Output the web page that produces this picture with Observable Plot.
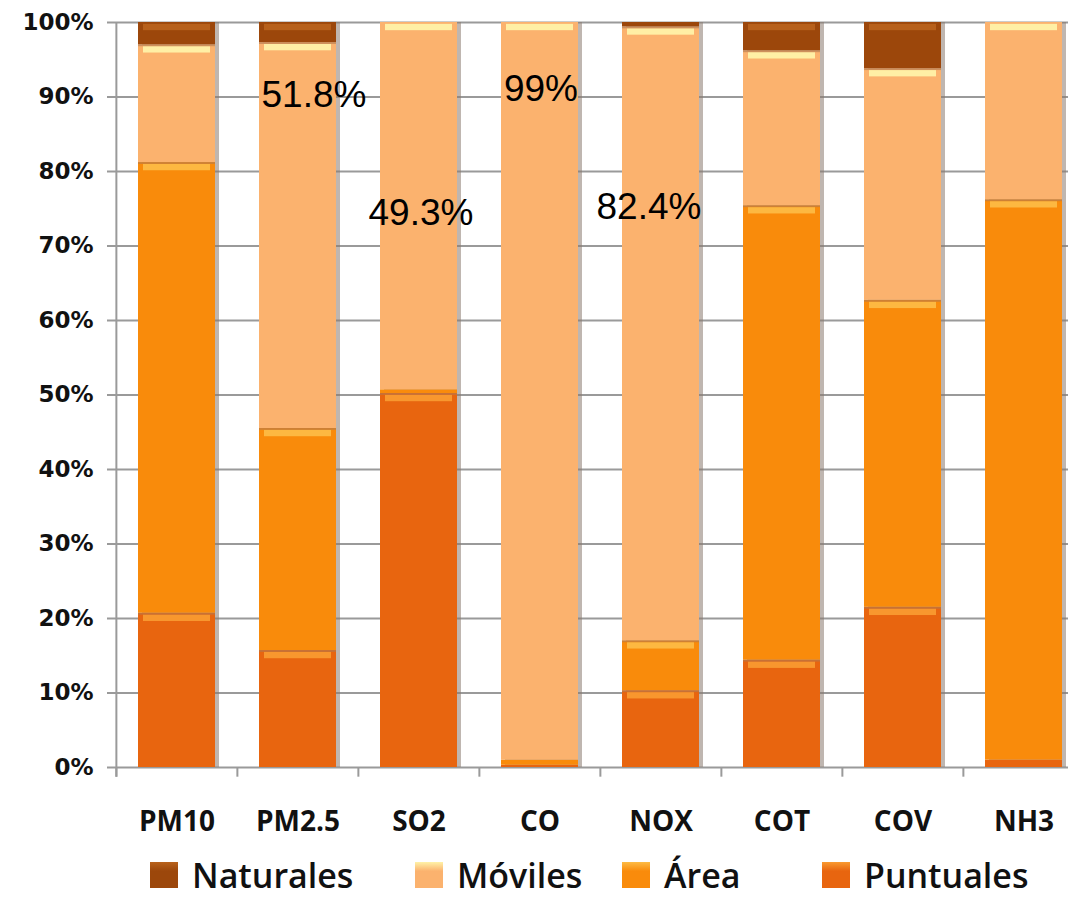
<!DOCTYPE html>
<html>
<head>
<meta charset="utf-8">
<script src="https://cdn.jsdelivr.net/npm/d3@7"></script>
<script src="https://cdn.jsdelivr.net/npm/@observablehq/plot@0.6"></script>
<style>
  html, body { margin: 0; padding: 0; background: #fff; overflow: hidden; }
  #chart svg { display: block; }
  #legend { position: relative; height: 49px;
            font-family: "Open Sans", sans-serif; font-weight: 600; font-size: 34px; color: #111; }
  #legend .item { position: absolute; top: 0; height: 49px; display: flex; align-items: center; }
  #legend .sw { width: 28px; height: 26px; margin-right: 14px; }
</style>
</head>
<body>
<div id="chart"></div>
<div id="legend"></div>
<script>
const categories = ["PM10", "PM2.5", "SO2", "CO", "NOX", "COT", "COV", "NH3"];
const seriesNames = ["Puntuales", "Área", "Móviles", "Naturales"];
const puntuales = [20.7, 15.7, 50.2, 0.3, 10.3, 14.4, 21.5, 1.0];
const area      = [60.5, 29.8, 0.5, 0.7, 6.7, 61.0, 41.2, 75.2];
const moviles   = [15.8, 51.8, 49.3, 99.0, 82.4, 20.8, 31.1, 23.8];
const naturales = [3.0, 2.7, 0.0, 0.0, 0.6, 3.8, 6.2, 0.0];
const yTicks = [0, 10, 20, 30, 40, 50, 60, 70, 80, 90, 100];
const annoCats = ["PM2.5", "CO", "SO2", "NOX"];
const annoText = ["51.8%", "99%", "49.3%", "82.4%"];

const colors = {"Puntuales": "#e8650f", "Área": "#f98b0b", "Móviles": "#fbb26e", "Naturales": "#9c470b"};
const highlights = {"Puntuales": "#f99a30", "Área": "#fdbb45", "Móviles": "#fff2a8", "Naturales": "#b8621c"};

const seriesValues = [puntuales, area, moviles, naturales];
const segments = [];
const totals = [];
categories.forEach((c, i) => {
  let base = 0;
  seriesValues.forEach((vals, s) => {
    const v = vals[i];
    segments.push({cat: c, series: seriesNames[s], y1: base, y2: base + v, v});
    base += v;
  });
  totals.push({cat: c, total: base});
});

const step = 970 / 8;
// annotation placement (label anchor heights in % units and horizontal nudges)
const annoLayout = {"PM2.5": [90.2, 16], "CO": [91.1, 1], "SO2": [74.4, 2], "NOX": [75.2, -12]};
const annoMarks = annoCats.map((c, i) =>
  Plot.text([{cat: c, label: annoText[i], y: annoLayout[c][0]}], {
    x: "cat", y: "y", text: "label", dx: annoLayout[c][1], fontSize: 37,
    fontFamily: "Liberation Sans", fill: "#000"
  })
);

const chart = Plot.plot({
  width: 1068,
  height: 850,
  marginLeft: 115,
  marginRight: 0,
  marginTop: 22,
  marginBottom: 83,
  x: {domain: categories, range: [115, 1085], paddingInner: 0.36, paddingOuter: 0.18, label: null},
  y: {domain: [0, 100], label: null},
  style: {background: "#fff", overflow: "visible"},
  marks: [
    Plot.ruleY(yTicks, {y: d => d, stroke: "#9a9a9a", strokeWidth: 2, insetLeft: -8}),
    Plot.rectY(totals, {x: "cat", y1: 0, y2: "total", fill: "#8a7a70", fillOpacity: 0.55, dx: 4}),
    Plot.rectY(segments.filter(d => d.v > 0), {x: "cat", y1: "y1", y2: "y2", fill: d => colors[d.series]}),
    Plot.rectY(segments.filter(d => d.v > 1.2), {
      x: "cat", y1: d => d.y2 - 1.1, y2: d => d.y2 - 0.25,
      fill: d => highlights[d.series], insetLeft: 5, insetRight: 5, fillOpacity: 0.95
    }),
    Plot.rectY(segments.filter(d => d.v > 1.2 && d.y2 < 99.9), {
      x: "cat", y1: d => d.y2 - 0.25, y2: d => d.y2, fill: "#b07a50", fillOpacity: 0.6
    }),
    Plot.ruleX(categories.slice(0, 1), {x: d => d, dx: -step / 2, y1: -1.3, y2: 100, stroke: "#9a9a9a", strokeWidth: 2}),
    Plot.ruleX(categories, {x: d => d, dx: -step / 2, y1: -1.3, y2: 0, stroke: "#9a9a9a", strokeWidth: 2}),
    Plot.axisY({ticks: yTicks, tickFormat: d => d + "%", tickSize: 0, tickPadding: 22,
      fontSize: 23, fontWeight: "bold", fontFamily: "DejaVu Sans", fill: "#111"}),
    Plot.axisX({tickSize: 0, tickPadding: 44, fontSize: 28, fontWeight: "bold", fontFamily: "Open Sans", fill: "#111"}),
    ...annoMarks
  ]
});
document.getElementById("chart").appendChild(chart);

const legendOrder = ["Naturales", "Móviles", "Área", "Puntuales"];
const legendLeft = [150, 415, 622, 822];
const legend = document.getElementById("legend");
legendOrder.forEach((name, i) => {
  const item = document.createElement("div");
  item.className = "item";
  item.style.left = legendLeft[i] + "px";
  const sw = document.createElement("div");
  sw.className = "sw";
  sw.style.background = `linear-gradient(to bottom, ${highlights[name]} 0%, ${colors[name]} 35%, ${colors[name]} 100%)`;
  const t = document.createElement("span");
  t.textContent = name;
  item.appendChild(sw);
  item.appendChild(t);
  legend.appendChild(item);
});
</script>
</body>
</html>
